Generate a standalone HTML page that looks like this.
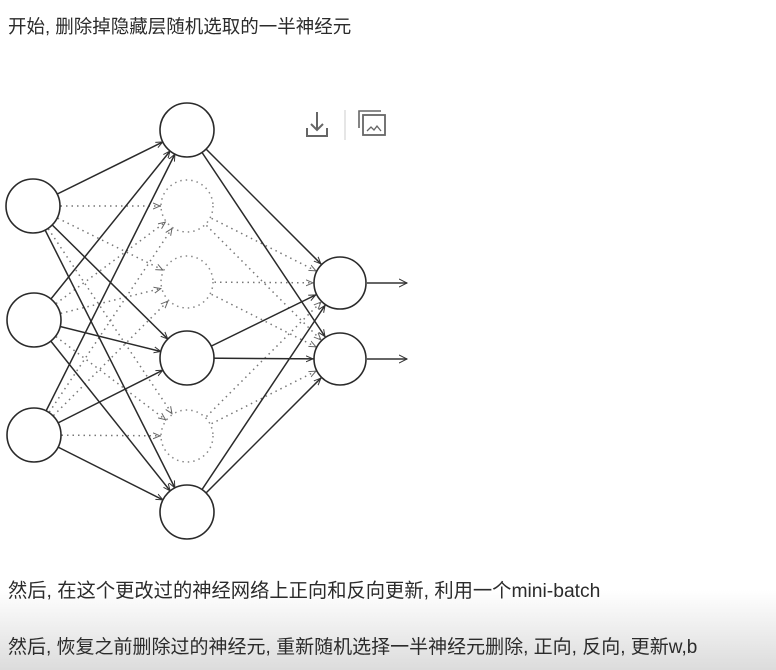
<!DOCTYPE html>
<html><head><meta charset="utf-8"><style>
html,body{margin:0;padding:0;width:776px;height:670px;overflow:hidden;background:#fff}
body{position:relative;font-family:"Liberation Sans","Noto Sans CJK SC",sans-serif;color:#2b2b2b}
.bg{position:absolute;left:0;top:590px;width:776px;height:80px;background:linear-gradient(#fff,#dcdcdc)}
.t{position:absolute;left:8px;font-size:19px;white-space:nowrap}
svg{position:absolute;left:0;top:0}
</style></head><body>
<div class="bg"></div>
<div class="t" style="top:13px;font-size:18.5px">开始, 删除掉隐藏层随机选取的一半神经元</div>
<div class="t" style="top:575px;font-size:19.3px">然后, 在这个更改过的神经网络上正向和反向更新, 利用一个mini-batch</div>
<div class="t" style="top:632px">然后, 恢复之前删除过的神经元, 重新随机选择一半神经元删除, 正向, 反向, 更新w,b</div>
<svg width="776" height="560" viewBox="0 0 776 560">
<defs>
<marker id="a" markerUnits="userSpaceOnUse" viewBox="0 0 40 10" refX="34" refY="5" markerWidth="40" markerHeight="10" orient="auto"><path d="M0,2 L7,5 L0,8" fill="none" stroke="#333" stroke-width="1"/></marker>
<marker id="b" markerUnits="userSpaceOnUse" viewBox="0 0 40 10" refX="34" refY="5" markerWidth="40" markerHeight="10" orient="auto"><path d="M0,2 L7,5 L0,8" fill="none" stroke="#666" stroke-width="1"/></marker>
<marker id="c" markerUnits="userSpaceOnUse" viewBox="0 0 10 10" refX="8" refY="5" markerWidth="10" markerHeight="10" orient="auto"><path d="M0,1 L8,5 L0,9" fill="none" stroke="#333" stroke-width="1"/></marker>
</defs>
<g stroke="#777" stroke-width="1.5" stroke-dasharray="1.5 4" marker-end="url(#b)">
<line x1="33" y1="206" x2="187" y2="206"/><line x1="33" y1="206" x2="187" y2="282"/><line x1="33" y1="206" x2="187" y2="436"/>
<line x1="34" y1="320" x2="187" y2="206"/><line x1="34" y1="320" x2="187" y2="282"/><line x1="34" y1="320" x2="187" y2="436"/>
<line x1="34" y1="435" x2="187" y2="206"/><line x1="34" y1="435" x2="187" y2="282"/><line x1="34" y1="435" x2="187" y2="436"/>
<line x1="187" y1="206" x2="340" y2="283"/><line x1="187" y1="206" x2="340" y2="359"/>
<line x1="187" y1="282" x2="340" y2="283"/><line x1="187" y1="282" x2="340" y2="359"/>
<line x1="187" y1="436" x2="340" y2="283"/><line x1="187" y1="436" x2="340" y2="359"/>
</g>
<g stroke="#2a2a2a" stroke-width="1.5" marker-end="url(#a)">
<line x1="33" y1="206" x2="187" y2="130"/><line x1="33" y1="206" x2="187" y2="358"/><line x1="33" y1="206" x2="187" y2="512"/>
<line x1="34" y1="320" x2="187" y2="130"/><line x1="34" y1="320" x2="187" y2="358"/><line x1="34" y1="320" x2="187" y2="512"/>
<line x1="34" y1="435" x2="187" y2="130"/><line x1="34" y1="435" x2="187" y2="358"/><line x1="34" y1="435" x2="187" y2="512"/>
<line x1="187" y1="130" x2="340" y2="283"/><line x1="187" y1="130" x2="340" y2="359"/>
<line x1="187" y1="358" x2="340" y2="283"/><line x1="187" y1="358" x2="340" y2="359"/>
<line x1="187" y1="512" x2="340" y2="283"/><line x1="187" y1="512" x2="340" y2="359"/>
</g>
<g stroke="#333" stroke-width="1.4" marker-end="url(#c)">
<line x1="367" y1="283" x2="407" y2="283"/><line x1="367" y1="359" x2="407" y2="359"/>
</g>
<g fill="#fff" stroke="#888" stroke-width="1.5" stroke-dasharray="1.5 4">
<circle cx="187" cy="206" r="26"/><circle cx="187" cy="282" r="26"/><circle cx="187" cy="436" r="26"/>
</g>
<g fill="#fff" stroke="#2a2a2a" stroke-width="1.6">
<circle cx="33" cy="206" r="27"/><circle cx="34" cy="320" r="27"/><circle cx="34" cy="435" r="27"/>
<circle cx="187" cy="130" r="27"/><circle cx="187" cy="358" r="27"/><circle cx="187" cy="512" r="27"/>
<circle cx="340" cy="283" r="26"/><circle cx="340" cy="359" r="26"/>
</g>
<g stroke="#666" stroke-width="2" fill="none">
<path d="M317,112 V130 M311,124 L317,130 L323,124 M307,128 V136 H327 V128"/>
<line x1="345" y1="110" x2="345" y2="140" stroke="#ddd" stroke-width="1.5"/>
<path d="M359,128 V111 H381" stroke-width="1.6"/>
<rect x="363" y="115" width="22" height="20" stroke-width="1.8"/>
<path d="M367,131 L371,127 L374,130 L377,126 L381,131" stroke-width="1.3"/>
</g>
</svg>
</body></html>
